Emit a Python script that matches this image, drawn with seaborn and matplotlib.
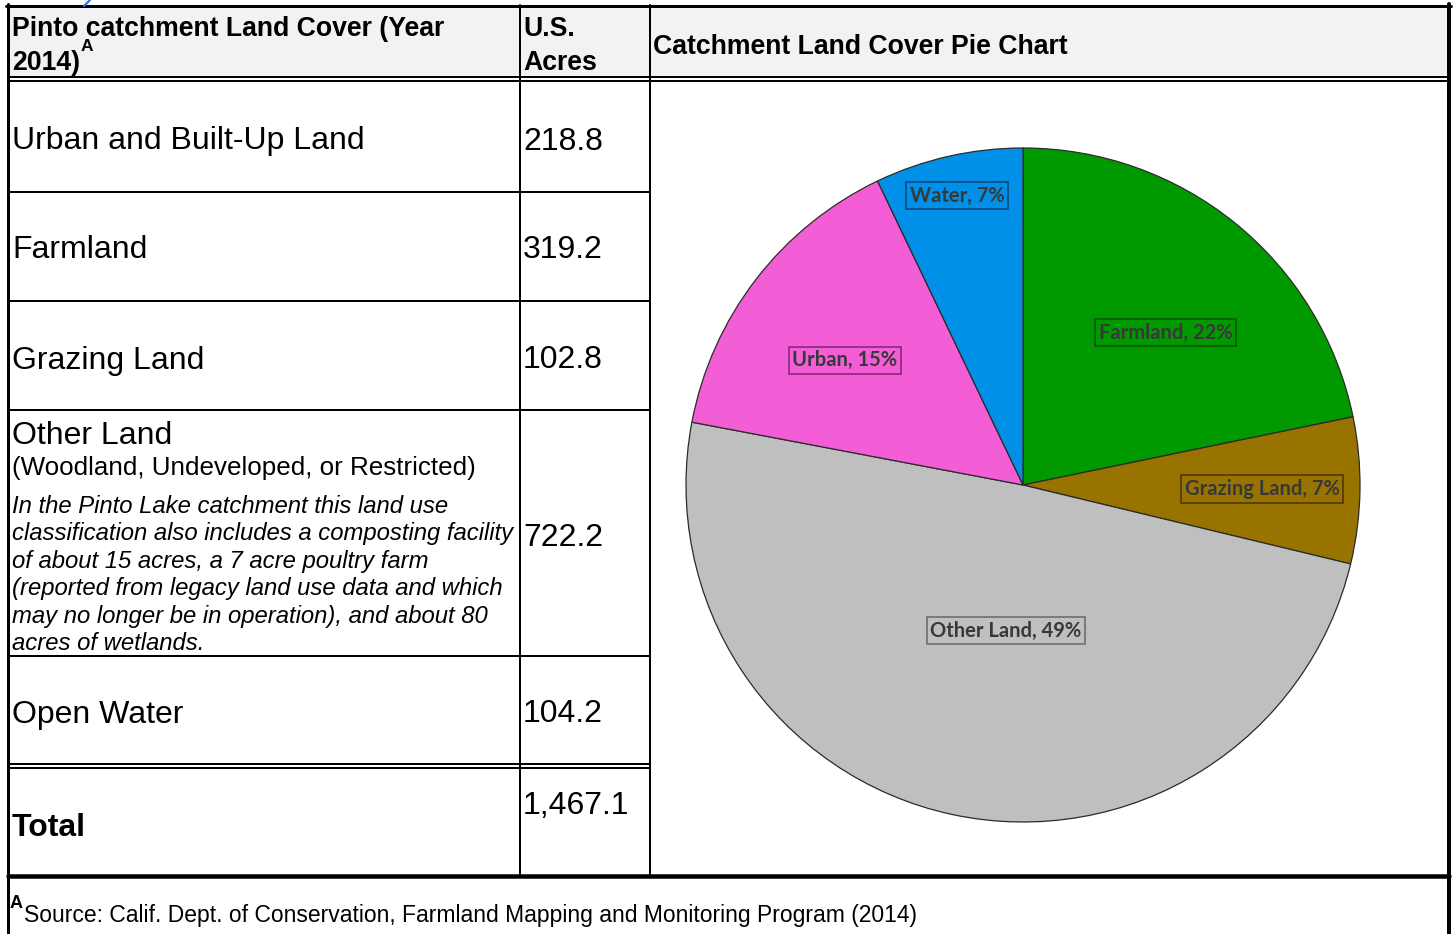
import matplotlib
matplotlib.use('Agg')
import matplotlib.pyplot as plt
import numpy as np
import seaborn as sns
from matplotlib.patches import Rectangle

# table rows
table_labels = ['Urban and Built-Up Land', 'Farmland', 'Grazing Land', 'Other Land', 'Open Water']
table_acres = ['218.8', '319.2', '102.8', '722.2', '104.2']
total_acres = '1,467.1'
other_sub = '(Woodland, Undeveloped, or Restricted)'
other_note = ['In the Pinto Lake catchment this land use',
              'classification also includes a composting facility',
              'of about 15 acres, a 7 acre poultry farm',
              '(reported from legacy land use data and which',
              'may no longer be in operation), and about 80',
              'acres of wetlands.']
footnote = 'Source: Calif. Dept. of Conservation, Farmland Mapping and Monitoring Program (2014)'

# pie slices (clockwise from top)
pie_names = ['Farmland', 'Grazing Land', 'Other Land', 'Urban', 'Water']
pie_acres = [319.2, 102.8, 722.2, 218.8, 104.2]
pie_colors = ['#009900', '#997300', '#bfbfbf', '#f35ed6', '#0090e8']
box_colors = ['#005a00', '#4d3a00', '#6e6e6e', '#8a2a78', '#0a4a80']
# label placement: radius (fraction of pie) and angle nudge in degrees
label_radius = [0.62, 0.71, 0.435, 0.645, 0.88]
label_nudge = [-4.0, 0.0, 5.5, 2.6, 0.0]

sns.set_theme(style='white')
plt.rcParams['font.family'] = ['Liberation Sans', 'Arial', 'DejaVu Sans']
plt.rcParams['text.color'] = 'black'

W, H = 1454, 934
fig = plt.figure(figsize=(W / 100, H / 100), dpi=100)
ax = fig.add_axes([0, 0, 1, 1])
ax.set_xlim(0, W)
ax.set_ylim(H, 0)
ax.axis('off')

px = 0.72  # one pixel in points
dy = 2.5   # baseline nudge for va='center'

# header background
ax.add_patch(Rectangle((7.5, 6), 1441.5, 70, facecolor='#f2f2f2', edgecolor='none', zorder=0))

# grid lines
ax.plot([6, 1451], [5.5, 5.5], color='black', lw=3 * px)
ax.plot([7.5, 7.5], [4, H], color='black', lw=3 * px)
ax.plot([1449, 1449], [4, H], color='black', lw=4 * px)
for y in [77, 81]:
    ax.plot([7.5, 1449], [y, y], color='black', lw=2 * px)
for x in [520, 650]:
    ax.plot([x, x], [5, 876], color='black', lw=2 * px)
for y in [192, 301, 410, 656, 764, 768]:
    ax.plot([7.5, 650], [y, y], color='black', lw=2 * px)
ax.plot([7.5, 1449], [876, 876], color='black', lw=4.5 * px)

# small blue stroke of a cut-off link at the top
ax.plot([84, 90], [6, 0], color='#2f6fd6', lw=1.5)

# header text
hdr = dict(fontsize=19.2, fontweight='bold', va='center', ha='left')
ax.text(12, 26 + dy, 'Pinto catchment Land Cover (Year', **hdr)
t2014 = ax.text(12, 60 + dy, '2014)', **hdr)
ax.annotate('A', xy=(1.0, 1.0), xycoords=t2014, xytext=(0, -3), textcoords='offset points',
            fontsize=12.5, fontweight='bold', ha='left', va='bottom')
ax.text(523, 26 + dy, 'U.S.', **hdr)
ax.text(523, 60 + dy, 'Acres', **hdr)
ax.text(653, 44 + dy, 'Catchment Land Cover Pie Chart', **hdr)

# body rows
row_y = [139, 248, 358, 535, 712]
for name, acres, y in zip(table_labels, table_acres, row_y):
    if name != 'Other Land':
        ax.text(12, y + dy, name, fontsize=23, va='center', ha='left')
    ax.text(523, y + dy, acres, fontsize=23, va='center', ha='left')

ax.text(12, 433 + dy, 'Other Land', fontsize=23, va='center', ha='left')
ax.text(12, 466 + dy, other_sub, fontsize=18.7, va='center', ha='left')
for i, line in enumerate(other_note):
    ax.text(12, 504 + i * 27.4 + dy, line, fontsize=17.2, style='italic', va='center', ha='left')

ax.text(12, 825 + dy, 'Total', fontsize=23, fontweight='bold', va='center', ha='left')
ax.text(523, 803 + dy, total_acres, fontsize=23, va='center', ha='left')

# footnote
ax.text(10, 904, 'A', fontsize=13, fontweight='bold', va='center', ha='left')
ax.text(24, 913 + dy, footnote, fontsize=16.5, va='center', ha='left')

# pie chart
cx, cy, r = 1023, 485, 337
pax = fig.add_axes([(cx - r) / W, (H - cy - r) / H, 2 * r / W, 2 * r / H])
pax.set_facecolor('none')
wedges, _ = pax.pie(pie_acres, colors=pie_colors, startangle=90, counterclock=False,
                    radius=1, wedgeprops=dict(edgecolor='#2b2b2b', linewidth=0.9))
pax.set_xlim(-1, 1)
pax.set_ylim(-1, 1)
pax.set_aspect('equal')
pax.axis('off')

total = sum(pie_acres)
for w, name, val, rad, nudge, bc in zip(wedges, pie_names, pie_acres, label_radius, label_nudge, box_colors):
    mid = np.deg2rad((w.theta1 + w.theta2) / 2 + nudge)
    pct = round(100 * val / total)
    pax.text(rad * np.cos(mid), rad * np.sin(mid), f'{name}, {pct}%',
             family=['Lato', 'DejaVu Sans'], fontweight='bold', fontsize=14.5,
             color='#383838', ha='center', va='center',
             bbox=dict(boxstyle='square,pad=0.18', facecolor='none', edgecolor=bc, linewidth=1.2))

fig.savefig('out.png', dpi=100)
